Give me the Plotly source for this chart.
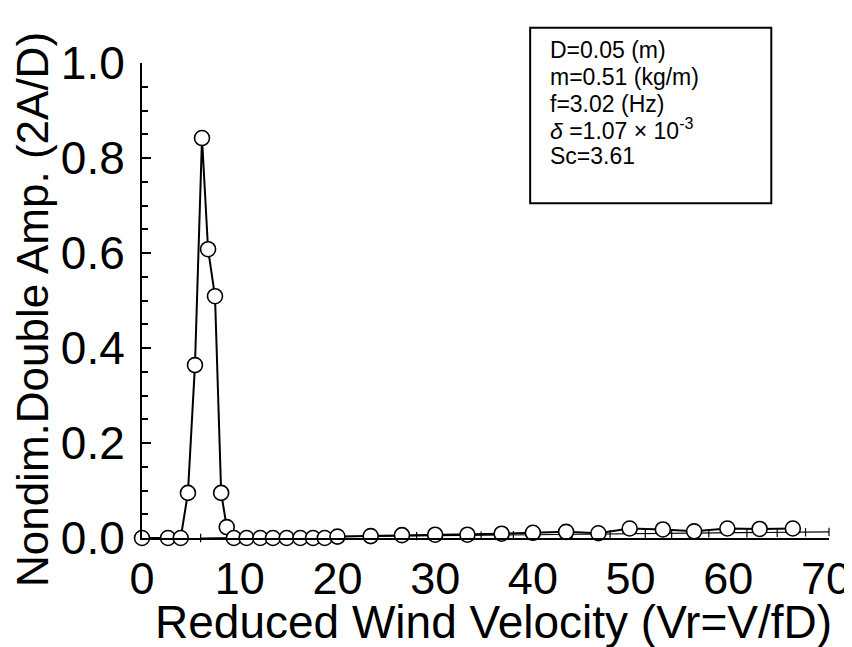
import plotly.graph_objects as go

# Main series (increasing wind velocity) - open circles
vr_up = [0.0, 2.66, 3.96, 4.7, 5.42, 6.14, 6.76, 7.47, 8.1, 8.67, 9.4,
         10.7, 12.1, 13.4, 14.8, 16.2, 17.5, 18.7, 20.0, 23.4, 26.6, 30.0,
         33.3, 36.8, 40.0, 43.4, 46.7, 49.9, 53.3, 56.5, 59.9, 63.2, 66.6]
amp_up = [0.0, 0.0, 0.0, 0.095, 0.364, 0.842, 0.608, 0.509, 0.095, 0.023, 0.0,
          0.0, 0.0, 0.0, 0.0, 0.0, 0.0, 0.0, 0.003, 0.004, 0.006, 0.007,
          0.007, 0.009, 0.011, 0.013, 0.010, 0.020, 0.018, 0.014, 0.020, 0.019, 0.020]

# Secondary thin series with tick markers
vr_dn = [6.0, 28.1, 34.7, 38.0, 44.0, 47.9, 51.5, 54.2, 58.0, 61.9, 65.0, 67.9, 70.3]
amp_dn = [0.0, 0.004, 0.005, 0.006, 0.008, 0.008, 0.009, 0.009, 0.010, 0.010, 0.011, 0.012, 0.013]

x_ticks = [0, 10, 20, 30, 40, 50, 60, 70]
y_ticks = [0.0, 0.2, 0.4, 0.6, 0.8, 1.0]

x_title = "Reduced Wind Velocity (Vr=V/fD)"
y_title = "Nondim.Double Amp. (2A/D)"
info_lines = ["D=0.05 (m)", "m=0.51 (kg/m)", "f=3.02 (Hz)",
              "<i>δ</i> =1.07 × 10<sup>-3</sup>", "Sc=3.61"]

FONT = "Liberation Sans, Arial, sans-serif"

fig = go.Figure()
fig.add_trace(go.Scatter(
    x=vr_dn, y=amp_dn, mode="lines+markers",
    line=dict(color="black", width=1.2),
    marker=dict(symbol="line-ns", size=6, line=dict(color="black", width=1.2)),
    cliponaxis=False, showlegend=False))
fig.add_trace(go.Scatter(
    x=vr_up, y=amp_up, mode="lines+markers",
    line=dict(color="black", width=2),
    marker=dict(symbol="circle", size=15, color="white",
                line=dict(color="black", width=1.6)),
    cliponaxis=False, showlegend=False))

# info box
fig.add_shape(type="rect", xref="paper", yref="paper",
              x0=0.565, x1=0.916, y0=0.705, y1=1.074,
              line=dict(color="black", width=2), fillcolor="white")
ys = [1.027, 0.971, 0.914, 0.861, 0.804]
for t, yy in zip(info_lines, ys):
    fig.add_annotation(xref="paper", yref="paper", x=0.591, y=yy, text=t,
                       showarrow=False, xanchor="left", yanchor="middle",
                       font=dict(family=FONT, size=23, color="black"))

# axis titles as annotations (standoff is ignored without automargin)
fig.add_annotation(xref="paper", yref="paper", x=0.511, y=-0.177, text=x_title,
                   showarrow=False, xanchor="center", yanchor="middle",
                   font=dict(family=FONT, size=46, color="black"))
fig.add_annotation(xref="paper", yref="paper", x=-0.16, y=0.48, text=y_title,
                   textangle=-90, showarrow=False, xanchor="center", yanchor="middle",
                   font=dict(family=FONT, size=44, color="black"))

# page body has an 8px margin; compensate so the plot lands where the reference has it
fig.update_layout(
    width=852, height=647,
    margin=dict(l=134, r=31, t=55, b=117),
    paper_bgcolor="white", plot_bgcolor="white",
    font=dict(family=FONT, color="black"),
)
fig.update_xaxes(
    range=[0, 70.3], showgrid=False, zeroline=False, automargin=False,
    showline=True, linecolor="black", linewidth=2,
    ticks="", tickvals=x_ticks, ticktext=[str(v) for v in x_ticks],
    tickfont=dict(family=FONT, size=45),
)
fig.update_yaxes(
    range=[0, 1.0], showgrid=False, zeroline=False, automargin=False,
    showline=True, linecolor="black", linewidth=2,
    ticks="inside", ticklen=9, tickwidth=2, tickcolor="black",
    tickvals=y_ticks, ticktext=["%.1f" % v for v in y_ticks],
    tickfont=dict(family=FONT, size=46), ticklabelstandoff=6,
    minor=dict(ticks="inside", ticklen=6, tickwidth=1.5, tickcolor="black", dtick=0.05),
)

fig.write_html("out.html")
